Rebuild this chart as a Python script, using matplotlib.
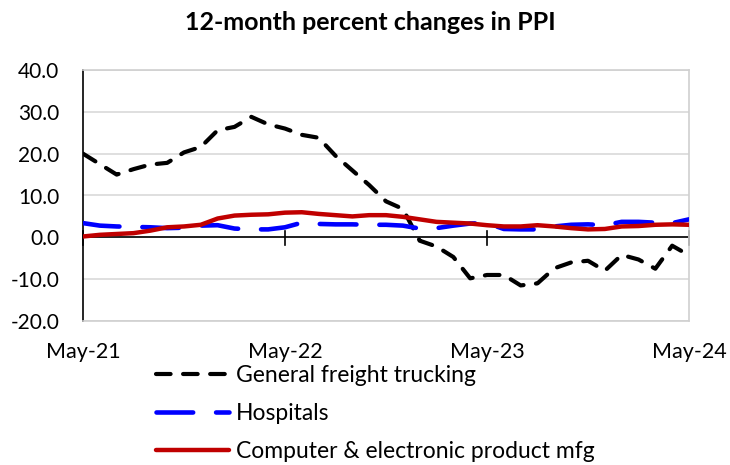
import matplotlib
matplotlib.use("Agg")
import matplotlib.pyplot as plt

plt.rcParams['font.family'] = ['Lato', 'DejaVu Sans']

# months since May-21 (0 .. 36 = May-24)
months = list(range(37))
tick_pos = [0, 12, 24, 36]
tick_labels = ['May-21', 'May-22', 'May-23', 'May-24']

trucking = [20.0, 17.5, 15.0, 16.3, 17.4, 17.8, 20.3, 21.6, 25.6, 26.4, 28.8, 27.0,
            26.0, 24.5, 23.8, 19.5, 16.0, 12.5, 8.6, 6.8, -0.8, -2.2, -4.7, -9.8,
            -9.0, -9.0, -11.5, -11.0, -7.4, -6.0, -5.6, -8.0, -4.2, -5.3, -7.5, -2.0,
            -4.3]
hospitals = [3.4, 2.8, 2.6, 2.5, 2.4, 2.2, 2.3, 2.8, 2.9, 2.1, 1.9, 1.9,
             2.4, 3.5, 3.2, 3.1, 3.1, 3.0, 3.0, 2.8, 2.1, 2.2, 2.8, 3.3,
             3.4, 2.0, 1.9, 1.9, 2.6, 3.0, 3.1, 2.9, 3.7, 3.7, 3.5, 3.4,
             4.3]
computer = [0.2, 0.6, 0.8, 1.0, 1.6, 2.4, 2.6, 3.0, 4.5, 5.2, 5.4, 5.5,
            5.9, 6.0, 5.6, 5.3, 5.0, 5.3, 5.3, 4.9, 4.3, 3.7, 3.5, 3.3,
            2.9, 2.6, 2.6, 2.9, 2.6, 2.2, 1.9, 2.0, 2.6, 2.7, 3.0, 3.1,
            3.0]

fig = plt.figure(figsize=(7.3, 4.65), dpi=100)
ax = fig.add_axes([83/730, 1-321/465, (689-83)/730, (321-70)/465])

ax.plot(months, trucking, color='black', lw=3.0, dashes=(3.5, 3), dash_capstyle='round',
        label='General freight trucking', zorder=3)
ax.plot(months, hospitals, color='#0000FF', lw=3.3, dashes=(8, 5), dash_capstyle='round',
        label='Hospitals', zorder=3)
ax.plot(months, computer, color='#C00000', lw=3.2, solid_capstyle='round',
        label='Computer & electronic product mfg', zorder=4)

ax.set_xlim(0, 36)
ax.set_ylim(-20, 40)
ax.set_yticks(range(-20, 41, 10))
ax.set_yticklabels(['%.1f' % v for v in range(-20, 41, 10)], fontsize=15)
ax.yaxis.grid(True, color='#d9d9d9', lw=1.2)
ax.set_axisbelow(True)
ax.tick_params(axis='y', length=0, pad=17)

for side in ['top', 'right', 'bottom']:
    ax.spines[side].set_color('#d0d0d0')
    ax.spines[side].set_linewidth(1.2)
ax.spines['left'].set_color('black')
ax.spines['left'].set_linewidth(1.2)

# horizontal axis line at zero with crossing ticks
ax.axhline(0, color='black', lw=1.2, zorder=2)
ax.set_xticks(tick_pos)
ax.set_xticklabels([])
ax.tick_params(axis='x', length=0)
for p in tick_pos:
    ax.plot([p, p], [-1.9, 1.5], color='black', lw=1.2, zorder=2, clip_on=False)
for p, lab in zip(tick_pos, tick_labels):
    ax.text(p, -0.125, lab, transform=ax.get_xaxis_transform(), ha='center', va='center',
            fontsize=15.5)

fig.text(370/730, 1-22/465, '12-month percent changes in PPI', ha='center', va='center',
         fontsize=18, fontweight='bold')

# legend sits low like the original, last row kept just inside the figure
fig.legend(loc='upper left', bbox_to_anchor=(156/730, 1-365/465), frameon=False,
           fontsize=16.5, handlelength=3.2, handletextpad=0.3, labelspacing=0.74,
           borderpad=0, borderaxespad=0)

fig.savefig('out.png', dpi=100)
